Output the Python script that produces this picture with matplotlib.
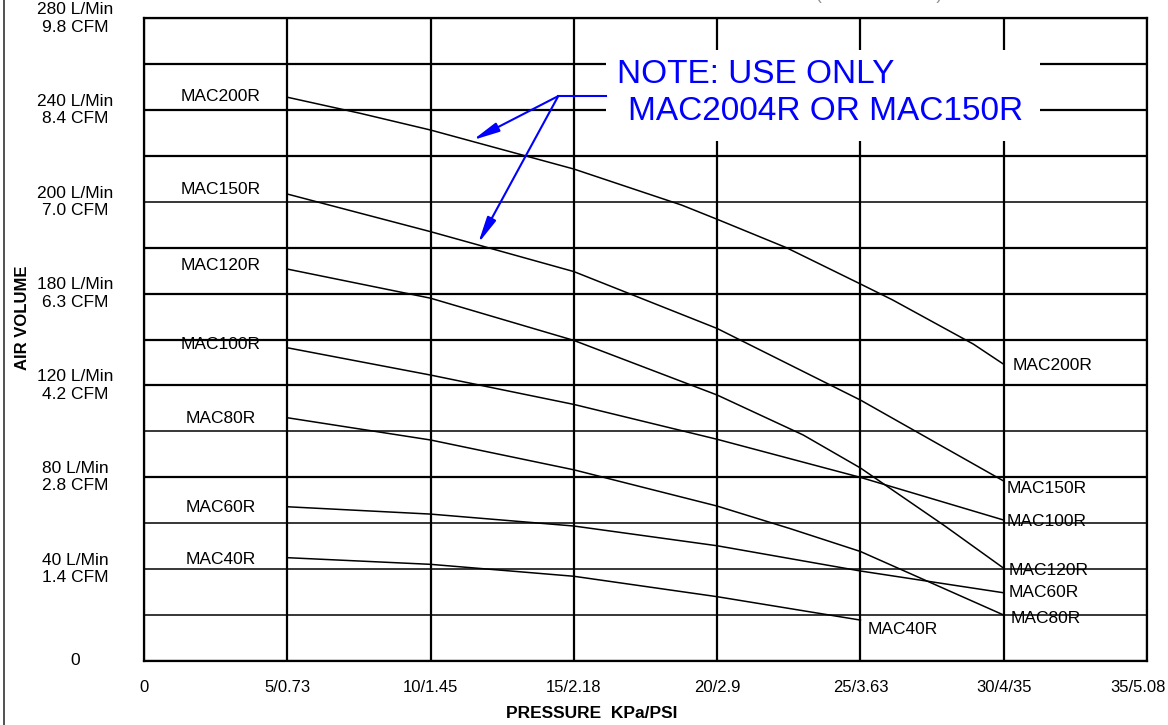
import matplotlib
matplotlib.use("Agg")
import matplotlib.pyplot as plt
from matplotlib.patches import Rectangle
from matplotlib.lines import Line2D
from matplotlib.transforms import ScaledTranslation

plt.rcParams['font.family'] = ['Liberation Sans', 'DejaVu Sans']

# pressure in KPa, air volume in L/Min
p200 = [5, 7.54, 10, 15, 18.76, 20, 22.42, 25, 26.13, 28.94, 30]
mac200r = [245.6, 238.6, 231.3, 214.3, 198.6, 192.4, 180.0, 164.2, 157.2, 138.0, 129.2]
p150 = [5, 10, 15, 20, 25, 30]
mac150r = [203.4, 187.0, 169.6, 144.8, 113.6, 78.3]
p120 = [5, 10, 15, 20, 23, 25, 27.95, 30]
mac120r = [170.7, 158.0, 139.6, 115.8, 98.4, 84.0, 58.7, 40.3]
p100 = [5, 10, 15, 20, 25, 30]
mac100r = [136.4, 124.5, 111.7, 96.5, 79.9, 61.3]
p80 = [5, 10, 15, 20, 22.54, 25, 30]
mac80r = [105.9, 96.2, 83.2, 67.4, 57.6, 47.6, 19.9]
p60 = [5, 10, 15, 20, 25, 30]
mac60r = [67.1, 63.9, 58.7, 50.1, 39.1, 29.6]
p40 = [5, 10, 15, 20, 25]
mac40r = [44.9, 42.0, 36.8, 27.9, 17.7]

x_ticks = [0, 5, 10, 15, 20, 25, 30, 35]
x_labels = ["0", "5/0.73", "10/1.45", "15/2.18", "20/2.9", "25/3.63", "30/4/35", "35/5.08"]
y_ticks = [0, 40, 80, 120, 160, 200, 240, 280]
y_labels = ["0", "40 L/Min\n1.4 CFM", "80 L/Min\n2.8 CFM", "120 L/Min\n4.2 CFM",
            "180 L/Min\n6.3 CFM", "200 L/Min\n7.0 CFM", "240 L/Min\n8.4 CFM",
            "280 L/Min\n9.8 CFM"]

series = [
    ("MAC200R", p200, mac200r),
    ("MAC150R", p150, mac150r),
    ("MAC120R", p120, mac120r),
    ("MAC100R", p100, mac100r),
    ("MAC80R", p80, mac80r),
    ("MAC60R", p60, mac60r),
    ("MAC40R", p40, mac40r),
]

# label offsets in pixels (dx, dy up) from first / last point
left_off = {"MAC200R": 1, "MAC150R": 4.7, "MAC120R": 3.3, "MAC100R": 3.4,
            "MAC80R": -0.6, "MAC60R": -0.6, "MAC40R": -1.6}
right_off = {"MAC200R": (9, -1), "MAC150R": (3, -7), "MAC120R": (5, -2),
             "MAC100R": (3, -1), "MAC80R": (7, -3), "MAC60R": (5, 0),
             "MAC40R": (7, -9)}
PX = 0.72  # points per pixel at dpi 100

fig = plt.figure(figsize=(11.68, 7.25), dpi=100)
ax = fig.add_axes([144 / 1168, 1 - 660.7 / 725, 1003 / 1168, 642.4 / 725])
ax.set_xlim(0, 35)
ax.set_ylim(0, 280)

# grid
for xv in x_ticks:
    ax.axvline(xv, color="black", lw=1.6, zorder=1)
thin = {20, 40, 60, 100, 200}
for yv in range(0, 281, 20):
    ax.axhline(yv, color="black", lw=1.1 if yv in thin else 1.6, zorder=1)

for sp in ax.spines.values():
    sp.set_linewidth(1.6)
    sp.set_color("black")

for name, xs, ys in series:
    ax.plot(xs, ys, color="black", lw=1.1, zorder=3)
    ax.annotate(name, (xs[0], ys[0]), xytext=(-67 * PX, left_off[name] * PX),
                textcoords="offset points", ha="center", va="center",
                fontsize=12.5, zorder=4)
    dx, dy = right_off[name]
    ax.annotate(name, (xs[-1], ys[-1]), xytext=(dx * PX, dy * PX),
                textcoords="offset points", ha="left", va="center",
                fontsize=12.5, zorder=4)

ax.set_xticks(x_ticks)
ax.set_xticklabels(x_labels, fontsize=12)
ax.set_yticks(y_ticks)
ax.set_yticklabels(y_labels, fontsize=12.5, ha="center", va="center")
ax.tick_params(axis="x", length=0, pad=14)
ax.tick_params(axis="y", length=0, pad=49.7)
last = ax.get_xticklabels()[-1]
last.set_transform(last.get_transform() + ScaledTranslation(-0.09, 0, fig.dpi_scale_trans))

# note box and arrows
ax.add_patch(Rectangle((16.12, 226.5), 15.14, 39.7, facecolor="white",
                       edgecolor="none", zorder=2.5))
ax.text(16.5, 255.5, "NOTE: USE ONLY", color="#0000ff", fontsize=24,
        ha="left", va="center", zorder=5)
ax.text(16.88, 239.5, "MAC2004R OR MAC150R", color="#0000ff", fontsize=24,
        ha="left", va="center", zorder=5)
ax.plot([14.456, 16.12], [246.1, 246.1], color="#0000ff", lw=1.5, zorder=5)
for tip in [(11.47, 226.9), (11.66, 181.9)]:
    ax.annotate("", xy=tip, xytext=(14.456, 246.1),
                arrowprops=dict(arrowstyle="-|>,head_length=1.0,head_width=0.18",
                                mutation_scale=16, color="#0000ff", lw=1.5,
                                shrinkA=0, shrinkB=0), zorder=5)

fig.text(592 / 1168, 1 - 714 / 725, "PRESSURE  KPa/PSI", fontsize=12.5,
         fontweight="bold", ha="center", va="center")
fig.text(23 / 1168, 1 - 317.5 / 725, "AIR VOLUME", fontsize=12, fontweight="bold",
         rotation=90, ha="center", va="center")
fig.text(300 / 1168, 1 + 1 / 725, "AIR VOLUME VS. PRESSURE FOR MAC SERIES AIR PUMPS (230V 50/60Hz)",
         fontsize=13, color="#909090", ha="left", va="baseline")
fig.add_artist(Line2D([3.5 / 1168, 3.5 / 1168], [0, 1], color="#333333", lw=1.2))

fig.savefig("out.png", dpi=100)
